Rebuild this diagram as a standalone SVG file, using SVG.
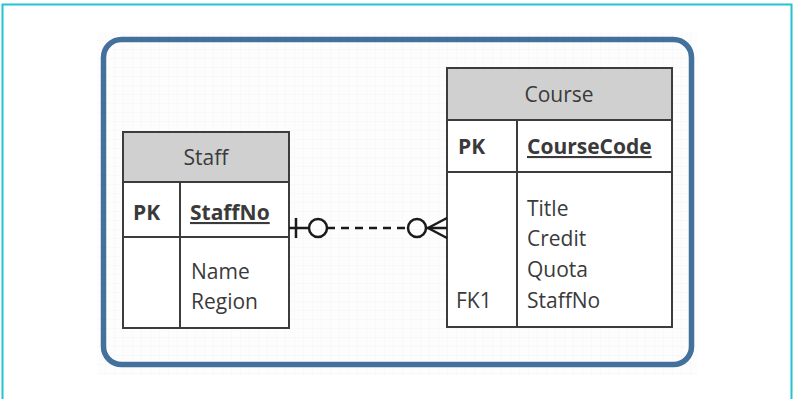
<svg xmlns="http://www.w3.org/2000/svg" width="793" height="399" viewBox="0 0 793 399">
  <defs>
    <pattern id="grid" x="97" y="32" width="9" height="9" patternUnits="userSpaceOnUse">
      <path d="M9 0V9M0 9H9" fill="none" stroke="#f1f4f7" stroke-width="1"/>
    </pattern>
  </defs>
  <style>
    .tbl { fill: #ffffff; stroke: #3c3c3c; stroke-width: 2; }
    .hdr { fill: #d0d0d0; stroke: #3c3c3c; stroke-width: 2; }
    .ln { stroke: #3c3c3c; stroke-width: 2; fill: none; }
    .t { font-family: "Open Sans", "Liberation Sans", sans-serif; font-size: 21px; fill: #3a3a3a; }
    .b { font-weight: bold; }
    .c { text-anchor: middle; }
    .u { text-decoration: underline; }
    .conn { stroke: #1a1a1a; stroke-width: 2.5; fill: none; }
  </style>
  <rect x="0" y="0" width="793" height="399" fill="#ffffff"/>
  <path d="M2.5 405V4.5H791.5V405" fill="none" stroke="#22c4cf" stroke-width="2"/>
  <rect x="97" y="32" width="600" height="343" fill="#fdfdfe"/>
  <rect x="97" y="32" width="600" height="343" fill="url(#grid)"/>
  <rect x="103.5" y="39.5" width="588" height="325" rx="18" fill="none" stroke="#44709c" stroke-width="5.5"/>

  <g id="staff">
    <rect class="tbl" x="123" y="132" width="166" height="196"/>
    <rect class="hdr" x="123" y="132" width="166" height="50"/>
    <line class="ln" x1="123" y1="237" x2="289" y2="237"/>
    <line class="ln" x1="180" y1="182" x2="180" y2="328"/>
    <text class="t c" x="206" y="165">Staff</text>
    <text class="t b" x="133" y="220">PK</text>
    <text class="t b u" x="190" y="220">StaffNo</text>
    <text class="t" x="191" y="279">Name</text>
    <text class="t" x="191" y="309">Region</text>
  </g>

  <g id="course">
    <rect class="tbl" x="447" y="68" width="225" height="259"/>
    <rect class="hdr" x="447" y="68" width="225" height="52"/>
    <line class="ln" x1="447" y1="172" x2="672" y2="172"/>
    <line class="ln" x1="517" y1="120" x2="517" y2="327"/>
    <text class="t c" x="559" y="102">Course</text>
    <text class="t b" x="458" y="154">PK</text>
    <text class="t b u" x="527" y="154">CourseCode</text>
    <text class="t" x="527" y="216">Title</text>
    <text class="t" x="527" y="246">Credit</text>
    <text class="t" x="527" y="277">Quota</text>
    <text class="t" x="456" y="308">FK1</text>
    <text class="t" x="527" y="308">StaffNo</text>
  </g>

  <g id="connectors">
    <line class="conn" x1="289" y1="228" x2="309" y2="228"/>
    <line class="conn" x1="296" y1="218" x2="296" y2="238"/>
    <circle class="conn" cx="318" cy="228" r="9"/>
    <line class="conn" x1="327" y1="228" x2="408" y2="228" stroke-dasharray="8 6"/>
    <circle class="conn" cx="417" cy="228" r="9"/>
    <line class="conn" x1="426" y1="228" x2="447" y2="228"/>
    <line class="conn" x1="428" y1="228" x2="447" y2="218"/>
    <line class="conn" x1="428" y1="228" x2="447" y2="238"/>
  </g>
</svg>
